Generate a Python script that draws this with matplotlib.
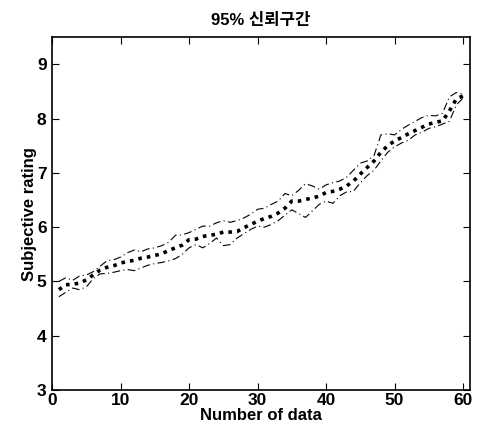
import matplotlib
matplotlib.use("Agg")
import matplotlib.pyplot as plt

x = list(range(1, 61))
mean = [4.85, 4.94, 4.95, 4.97, 5.03, 5.12, 5.21, 5.26, 5.29, 5.34,
        5.37, 5.39, 5.43, 5.45, 5.48, 5.51, 5.57, 5.62, 5.67, 5.77,
        5.78, 5.83, 5.85, 5.87, 5.91, 5.91, 5.92, 5.99, 6.05, 6.11,
        6.16, 6.20, 6.26, 6.35, 6.48, 6.48, 6.51, 6.54, 6.57, 6.64,
        6.66, 6.70, 6.76, 6.85, 6.98, 7.10, 7.22, 7.38, 7.50, 7.59,
        7.65, 7.72, 7.78, 7.84, 7.90, 7.93, 7.96, 8.14, 8.36, 8.42]
upper = [5.00, 5.07, 5.02, 5.10, 5.12, 5.18, 5.28, 5.38, 5.40, 5.45,
         5.53, 5.58, 5.55, 5.60, 5.62, 5.66, 5.72, 5.85, 5.86, 5.90,
         5.96, 6.02, 6.02, 6.08, 6.12, 6.09, 6.12, 6.17, 6.24, 6.33,
         6.35, 6.42, 6.48, 6.62, 6.58, 6.68, 6.80, 6.76, 6.70, 6.78,
         6.82, 6.85, 6.92, 7.05, 7.18, 7.22, 7.32, 7.70, 7.72, 7.70,
         7.80, 7.88, 7.95, 8.02, 8.06, 8.05, 8.10, 8.40, 8.48, 8.45]
lower = [4.72, 4.80, 4.88, 4.85, 4.90, 5.05, 5.14, 5.15, 5.17, 5.20,
         5.22, 5.20, 5.25, 5.30, 5.33, 5.35, 5.38, 5.42, 5.50, 5.62,
         5.68, 5.62, 5.70, 5.80, 5.66, 5.68, 5.80, 5.88, 5.96, 6.02,
         6.00, 6.05, 6.12, 6.22, 6.32, 6.25, 6.18, 6.30, 6.42, 6.48,
         6.44, 6.58, 6.65, 6.66, 6.82, 6.95, 7.05, 7.22, 7.38, 7.48,
         7.55, 7.60, 7.70, 7.75, 7.82, 7.85, 7.90, 7.95, 8.25, 8.38]

title = "95% 신뢰구간"
xlabel = "Number of data"
ylabel = "Subjective rating"
xticks = [0, 10, 20, 30, 40, 50, 60]
yticks = [3, 4, 5, 6, 7, 8, 9]

plt.rcParams['font.family'] = ['Liberation Sans', 'Noto Sans CJK KR', 'DejaVu Sans']

fig = plt.figure(figsize=(4.82, 4.32), dpi=100)
ax = fig.add_axes([0.108, 0.097, 0.867, 0.817])

ax.plot(x, upper, color='black', linestyle=(0, (7, 3, 1, 3)), linewidth=0.8)
ax.plot(x, lower, color='black', linestyle=(0, (7, 3, 1, 3)), linewidth=0.8)
ax.plot(x, mean, color='black', linestyle=(0, (1, 1.4)), linewidth=2.6)

ax.set_xlim(0, 61)
ax.set_ylim(3, 9.5)
ax.set_xticks(xticks)
ax.set_yticks(yticks)
ax.tick_params(direction='in', top=True, right=True, length=5, labelsize=12.5)
ax.tick_params(axis='x', pad=2)
ax.tick_params(axis='y', pad=4)
for s in ax.spines.values():
    s.set_linewidth(1.2)

ax.set_xlabel(xlabel, fontsize=12, fontweight='bold', labelpad=0)
ax.set_ylabel(ylabel, fontsize=12, fontweight='bold', labelpad=0)
ax.set_title(title, fontsize=12, fontweight='bold', pad=9,
             family=['Liberation Sans', 'Noto Sans CJK KR'])
for lab in ax.get_xticklabels() + ax.get_yticklabels():
    lab.set_fontweight('bold')

fig.savefig("out.png", dpi=100)
